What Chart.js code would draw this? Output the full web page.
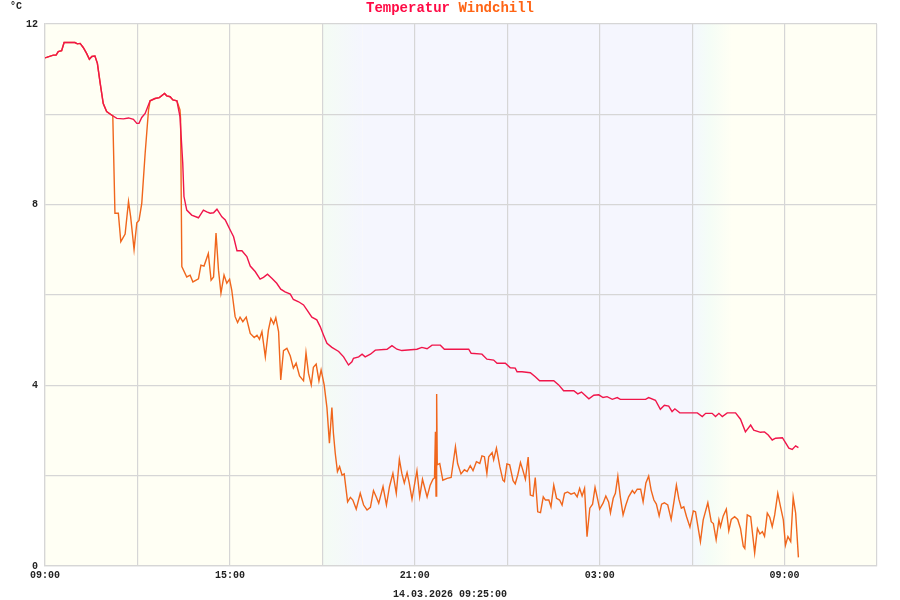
<!DOCTYPE html>
<html><head><meta charset="utf-8">
<script src="https://cdn.jsdelivr.net/npm/chart.js@4.4.1/dist/chart.umd.min.js"></script>
<style>html,body{margin:0;padding:0;background:#fff}#wrap{width:900px;height:600px}</style>
</head><body><div id="wrap"><canvas id="c" width="900" height="600"></canvas></div>
<script>
// hours after 09:00 on the start day
const tempHours = [0.00,0.05,0.27,0.36,0.43,0.54,0.62,0.97,1.05,1.14,1.24,1.35,1.44,1.52,1.62,1.70,1.79,1.89,2.00,2.17,2.33,2.54,2.71,2.87,2.98,3.05,3.14,3.25,3.41,3.57,3.71,3.88,3.95,4.06,4.15,4.28,4.38,4.47,4.51,4.60,4.76,4.98,5.14,5.25,5.36,5.47,5.58,5.74,5.85,6.01,6.12,6.23,6.39,6.55,6.66,6.82,6.98,7.09,7.22,7.36,7.52,7.65,7.79,7.96,8.06,8.23,8.39,8.50,8.66,8.82,8.93,9.04,9.15,9.31,9.53,9.69,9.85,9.96,10.01,10.18,10.29,10.39,10.56,10.72,11.10,11.26,11.42,11.58,12.07,12.23,12.40,12.56,12.83,12.96,13.75,13.83,14.18,14.34,14.56,14.67,14.94,15.10,15.26,15.32,15.48,15.75,15.91,16.05,16.51,16.67,16.83,17.16,17.29,17.41,17.65,17.81,17.97,18.11,18.24,18.41,18.57,18.67,19.49,19.59,19.81,19.97,20.10,20.24,20.35,20.44,20.60,21.17,21.33,21.44,21.65,21.76,21.87,21.98,22.14,22.41,22.57,22.73,22.90,23.00,23.22,23.35,23.47,23.60,23.71,23.93,24.03,24.14,24.25,24.36,24.45];
const tempValues = [11.25,11.26,11.31,11.31,11.39,11.41,11.59,11.59,11.56,11.57,11.48,11.35,11.22,11.28,11.29,11.13,10.69,10.24,10.06,9.98,9.91,9.90,9.92,9.89,9.80,9.80,9.93,10.02,10.30,10.35,10.37,10.46,10.41,10.39,10.32,10.30,9.95,8.92,8.18,7.88,7.77,7.71,7.88,7.84,7.81,7.82,7.90,7.73,7.66,7.44,7.29,6.98,6.98,6.85,6.64,6.52,6.35,6.39,6.46,6.37,6.26,6.13,6.07,6.02,5.90,5.85,5.78,5.67,5.51,5.45,5.30,5.11,4.93,4.84,4.75,4.63,4.45,4.52,4.60,4.63,4.69,4.63,4.69,4.78,4.80,4.88,4.80,4.77,4.80,4.84,4.81,4.89,4.89,4.80,4.80,4.71,4.69,4.58,4.56,4.49,4.49,4.39,4.38,4.30,4.30,4.28,4.19,4.10,4.10,4.01,3.88,3.88,3.81,3.85,3.70,3.78,3.79,3.73,3.75,3.69,3.73,3.69,3.69,3.73,3.67,3.47,3.56,3.54,3.42,3.48,3.39,3.39,3.31,3.38,3.38,3.31,3.38,3.31,3.39,3.39,3.25,2.97,3.12,3.01,2.96,2.97,2.90,2.79,2.83,2.84,2.73,2.61,2.58,2.66,2.62];

const windHours = [0.00,0.05,0.27,0.36,0.43,0.54,0.62,0.97,1.05,1.14,1.24,1.35,1.44,1.52,1.62,1.70,1.79,1.89,2.00,2.17,2.20,2.27,2.38,2.46,2.60,2.71,2.78,2.89,2.98,3.05,3.14,3.25,3.36,3.41,3.57,3.71,3.88,3.95,4.06,4.15,4.28,4.38,4.40,4.44,4.60,4.71,4.80,4.98,5.06,5.16,5.30,5.39,5.47,5.55,5.63,5.71,5.81,5.90,5.99,6.06,6.17,6.25,6.33,6.42,6.53,6.66,6.79,6.88,6.96,7.04,7.15,7.25,7.33,7.42,7.49,7.58,7.65,7.74,7.85,7.96,8.06,8.15,8.26,8.39,8.47,8.55,8.64,8.71,8.80,8.89,8.96,9.06,9.15,9.23,9.31,9.36,9.42,9.49,9.56,9.64,9.71,9.82,9.91,9.99,10.10,10.23,10.34,10.45,10.56,10.66,10.75,10.83,10.97,11.08,11.18,11.29,11.40,11.50,11.58,11.66,11.75,11.82,11.91,11.98,12.07,12.16,12.25,12.40,12.50,12.59,12.64,12.67,12.69,12.71,12.73,12.81,12.91,13.05,13.18,13.32,13.39,13.50,13.61,13.70,13.80,13.89,14.00,14.11,14.18,14.26,14.34,14.40,14.51,14.56,14.65,14.76,14.86,14.91,14.99,15.08,15.19,15.26,15.34,15.43,15.50,15.59,15.68,15.75,15.84,15.91,15.99,16.08,16.17,16.24,16.35,16.42,16.51,16.60,16.70,16.78,16.86,16.96,17.07,17.18,17.27,17.35,17.43,17.51,17.59,17.68,17.77,17.85,17.94,18.00,18.11,18.20,18.29,18.35,18.44,18.51,18.59,18.67,18.76,18.85,18.94,19.06,19.13,19.22,19.33,19.41,19.50,19.59,19.67,19.76,19.84,19.93,20.01,20.10,20.21,20.32,20.41,20.49,20.57,20.65,20.73,20.82,20.93,21.04,21.11,21.27,21.36,21.51,21.62,21.69,21.78,21.87,21.92,22.01,22.11,22.19,22.27,22.38,22.48,22.57,22.66,22.71,22.79,22.90,23.03,23.12,23.20,23.28,23.35,23.44,23.52,23.60,23.68,23.78,23.87,23.96,24.03,24.11,24.20,24.28,24.36,24.45];
const windValues = [11.25,11.26,11.31,11.31,11.39,11.41,11.59,11.59,11.56,11.57,11.48,11.35,11.22,11.28,11.29,11.13,10.69,10.24,10.06,9.98,9.97,7.81,7.81,7.18,7.35,8.07,7.73,7.01,7.60,7.65,8.03,9.14,10.10,10.30,10.35,10.37,10.46,10.41,10.39,10.32,10.30,10.10,9.90,6.63,6.40,6.44,6.29,6.36,6.66,6.64,6.92,6.33,6.40,7.37,6.55,6.04,6.44,6.26,6.35,6.11,5.52,5.39,5.51,5.41,5.51,5.15,5.06,5.11,5.02,5.19,4.63,5.22,5.48,5.36,5.50,5.19,4.12,4.77,4.82,4.65,4.38,4.49,4.21,4.10,4.72,4.27,4.01,4.40,4.47,4.10,4.34,4.01,3.50,2.72,3.51,2.94,2.49,2.09,2.20,2.01,2.04,1.42,1.52,1.46,1.26,1.61,1.35,1.24,1.30,1.67,1.53,1.39,1.76,1.35,1.76,2.05,1.61,2.36,2.05,1.84,2.07,1.84,1.48,1.76,2.11,1.53,1.92,1.53,1.79,1.92,1.95,2.97,1.55,3.81,2.24,2.27,1.90,1.94,1.96,2.64,2.27,2.04,2.13,2.09,2.22,2.11,2.31,2.27,2.44,2.42,2.05,2.42,2.51,2.35,2.61,2.20,1.90,1.87,2.26,2.24,1.89,1.82,2.01,2.29,2.14,1.92,2.41,1.57,1.55,1.96,1.20,1.18,1.53,1.46,1.46,1.31,1.79,1.50,1.46,1.35,1.61,1.64,1.59,1.62,1.53,1.72,1.55,1.72,0.65,1.28,1.37,1.74,1.46,1.26,1.39,1.55,1.42,1.18,1.50,1.61,1.99,1.53,1.13,1.35,1.53,1.67,1.61,1.70,1.70,1.42,1.84,1.99,1.68,1.46,1.37,1.11,1.37,1.40,1.35,1.03,1.42,1.79,1.48,1.28,1.31,1.09,0.86,1.22,1.20,0.54,1.02,1.40,0.98,0.94,0.58,1.02,0.87,1.11,1.26,0.78,1.03,1.09,1.03,0.83,0.44,0.39,1.13,1.09,0.29,0.83,0.71,0.76,0.66,1.17,1.08,0.87,1.13,1.61,1.31,1.02,0.46,0.65,0.54,1.52,1.17,0.19];

const seriesNames = ['Temperatur', 'Windchill'];
const xTickLabels = {0:'09:00', 6:'15:00', 12:'21:00', 18:'03:00', 24:'09:00'};
const yTickLabels = {0:'0', 4:'4', 8:'8', 12:'12'};
const unitLabel = '°C';
const stampLabel = '14.03.2026 09:25:00';
const nightStartHour = 9, nightEndHour = 21, twilightHours = 1.3;

const COL_T = '#f0154a', COL_W = '#f0661c';
const FONT = '"Liberation Mono", "DejaVu Sans Mono", monospace';

function pts(xs, ys){ return xs.map((x,i)=>({x:x, y:ys[i]})); }

const bgPlugin = {
  id:'bg',
  beforeDraw(chart){
    const {ctx, chartArea:a, scales:{x}} = chart;
    ctx.save();
    ctx.fillStyle = '#ffffff'; ctx.fillRect(0,0,chart.width,chart.height);
    ctx.fillStyle = '#fffff4'; ctx.fillRect(a.left,a.top,a.right-a.left,a.bottom-a.top);
    const x1 = x.getPixelForValue(nightStartHour), x2 = x.getPixelForValue(nightStartHour+twilightHours);
    const x3 = x.getPixelForValue(nightEndHour), x4 = x.getPixelForValue(nightEndHour+twilightHours);
    let g = ctx.createLinearGradient(x1,0,x2,0);
    g.addColorStop(0,'#f4fcf4'); g.addColorStop(1,'#f5f6fe');
    ctx.fillStyle = g; ctx.fillRect(x1,a.top,x2-x1,a.bottom-a.top);
    ctx.fillStyle = '#f5f6fe'; ctx.fillRect(x2,a.top,x3-x2,a.bottom-a.top);
    g = ctx.createLinearGradient(x3,0,x4,0);
    g.addColorStop(0,'#f4f8fe'); g.addColorStop(0.45,'#f5fdf6'); g.addColorStop(1,'#fffff4');
    ctx.fillStyle = g; ctx.fillRect(x3,a.top,x4-x3,a.bottom-a.top);
    ctx.restore();
  }
};
const textPlugin = {
  id:'txt',
  afterDraw(chart){
    const ctx = chart.ctx;
    ctx.save();
    ctx.font = 'bold 14px ' + FONT;
    ctx.textBaseline = 'middle';
    const s1 = seriesNames[0], s2 = ' ' + seriesNames[1];
    const w1 = ctx.measureText(s1).width, w2 = ctx.measureText(s2).width;
    let sx = 450 - (w1+w2)/2;
    ctx.textAlign = 'left';
    ctx.fillStyle = '#ff0a45'; ctx.fillText(s1, sx, 8);
    ctx.fillStyle = '#ff6414'; ctx.fillText(s2, sx+w1, 8);
    ctx.font = 'bold 10px ' + FONT;
    ctx.fillStyle = '#222';
    ctx.fillText(unitLabel, 10, 6);
    ctx.textAlign = 'center';
    ctx.fillText(stampLabel, 450, 594);
    ctx.restore();
  }
};

new Chart(document.getElementById('c'), {
  type:'line',
  data:{datasets:[
    {label:seriesNames[0], data:pts(tempHours,tempValues), borderColor:COL_T, borderWidth:1.4, pointRadius:0, tension:0, fill:false},
    {label:seriesNames[1], data:pts(windHours,windValues), borderColor:COL_W, borderWidth:1.4, pointRadius:0, tension:0, fill:false}
  ]},
  options:{
    responsive:false, animation:false, events:[],
    layout:{padding:{left:0, right:23, top:24, bottom:0}},
    plugins:{legend:{display:false}, title:{display:false}, tooltip:{enabled:false}},
    scales:{
      x:{type:'linear', min:0, max:27,
        afterFit(s){ s.height = 34; },
        grid:{color:'#d6d6d6', lineWidth:1.2, drawTicks:false},
        border:{color:'#d6d6d6', width:1.2},
        ticks:{stepSize:3, autoSkip:false, maxRotation:0, padding:3, color:'#222',
          font:{family:FONT, size:10, weight:'bold'},
          callback:(v)=> xTickLabels[v] !== undefined ? xTickLabels[v] : ''}
      },
      y:{min:0, max:12,
        afterFit(s){ s.width = 45; },
        grid:{color:'#d6d6d6', lineWidth:1.2, drawTicks:false},
        border:{color:'#d6d6d6', width:1.2},
        ticks:{stepSize:2, padding:7, color:'#222',
          font:{family:FONT, size:10, weight:'bold'},
          callback:(v)=> yTickLabels[v] !== undefined ? yTickLabels[v] : ''}
      }
    }
  },
  plugins:[bgPlugin, textPlugin]
});
</script></body></html>
